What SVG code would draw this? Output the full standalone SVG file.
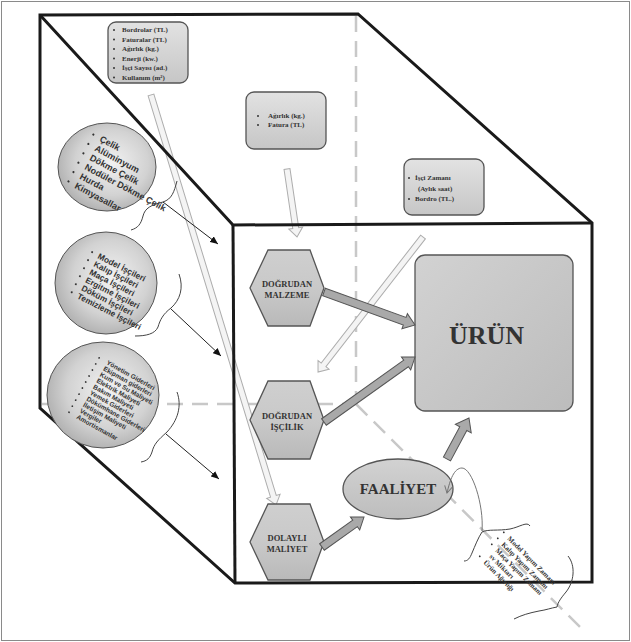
<svg xmlns="http://www.w3.org/2000/svg" width="631" height="642" viewBox="0 0 631 642">
<defs>
  <linearGradient id="boxG" x1="0" y1="0" x2="0" y2="1">
    <stop offset="0" stop-color="#e2e2e2"/><stop offset="1" stop-color="#c6c6c6"/>
  </linearGradient>
  <linearGradient id="hexG" x1="0" y1="0" x2="0" y2="1">
    <stop offset="0" stop-color="#cfcfcf"/><stop offset="0.5" stop-color="#c9c9c9"/><stop offset="1" stop-color="#b9b9b9"/>
  </linearGradient>
  <linearGradient id="urunG" x1="0" y1="0" x2="1" y2="1">
    <stop offset="0" stop-color="#d2d2d2"/><stop offset="1" stop-color="#bcbcbc"/>
  </linearGradient>
  <radialGradient id="circG" cx="0.55" cy="0.45" r="0.62">
    <stop offset="0" stop-color="#f2f2f2"/><stop offset="0.6" stop-color="#d2d2d2"/><stop offset="1" stop-color="#a9a9a9"/>
  </radialGradient>
  <linearGradient id="faaG" x1="0" y1="0" x2="0" y2="1">
    <stop offset="0" stop-color="#d2d2d2"/><stop offset="1" stop-color="#bdbdbd"/>
  </linearGradient>
  <marker id="bh" markerUnits="userSpaceOnUse" markerWidth="9" markerHeight="7" refX="8" refY="3.5" orient="auto">
    <path d="M0,0 L8,3.5 L0,7 Z" fill="#111"/>
  </marker>
  <marker id="gh" markerUnits="userSpaceOnUse" markerWidth="9" markerHeight="9" refX="7" refY="4" orient="auto">
    <path d="M0,0 L7,4 L0,8" fill="none" stroke="#777" stroke-width="1"/>
  </marker>
</defs>
<style>
  .edge{fill:none;stroke:#1a1a1a;stroke-width:3;stroke-linejoin:miter}
  .dash{fill:none;stroke:#c8c8c8;stroke-width:2.5;stroke-dasharray:16 9}
  .box{fill:url(#boxG);stroke:#555;stroke-width:1.3}
  .hex{fill:url(#hexG);stroke:#555;stroke-width:1.3}
  .blk{fill:#a9a9a9;stroke:#555;stroke-width:1}
  .lgt{fill:#f4f4f4;stroke:#adadad;stroke-width:1}
  .circ{fill:url(#circG);stroke:#555;stroke-width:1}
  .thin{fill:none;stroke:#222;stroke-width:1}
  .brace{fill:none;stroke:#444;stroke-width:1}
  .st{font-family:"Liberation Serif",serif;font-weight:bold;fill:#333;font-size:7px}
  .ct{font-family:"Liberation Sans",Arial,sans-serif;font-weight:bold;fill:#333}
  .ht{font-family:"Liberation Serif",serif;font-weight:bold;fill:#333;font-size:8.5px;text-anchor:middle}
  .dot{fill:#333}
</style>
<rect x="1.5" y="1.5" width="628" height="639" fill="#fff" stroke="#8a8a8a" stroke-width="1"/>

<g id="dashed">
  <path class="dash" d="M356,16 L356,404"/>
  <path class="dash" d="M42,404 L356,404"/>
  <path class="dash" d="M356,404 L582,629"/>
</g>

<g id="light-arrows">
  <path class="lgt" transform="translate(151,95) rotate(73.04)" d="M0,-3 L419.6,-3 L419.6,-7 L428.6,0 L419.6,7 L419.6,3 L0,3 Z"/>
  <path class="lgt" transform="translate(287,169) rotate(81.6)" d="M0,-3 L59.7,-3 L59.7,-7 L68.7,0 L59.7,7 L59.7,3 L0,3 Z"/>
  <path class="lgt" transform="translate(423,237) rotate(127.87)" d="M0,-3 L162,-3 L162,-7 L171,0 L162,7 L162,3 L0,3 Z"/>
</g>

<g id="cube">
  <path class="edge" d="M40,15 L358,14 L592,223 L592,582 L235,583 L40,408 Z"/>
  <path class="edge" d="M40,15 L233,225 L592,223"/>
  <path class="edge" d="M233,225 L235,583"/>
</g>

<g id="box-genel">
  <rect class="box" x="108" y="22" width="80" height="61" rx="8"/>
  <g class="st">
    <text x="122" y="32">Bordrolar (TL)</text>
    <text x="122" y="41.5">Faturalar (TL)</text>
    <text x="122" y="51">Ağırlık (kg.)</text>
    <text x="122" y="60.5">Enerji (kw.)</text>
    <text x="122" y="70">İşçi Sayısı (ad.)</text>
    <text x="122" y="79.5">Kullanım (m²)</text>
  </g>
  <g class="dot">
    <circle cx="114" cy="30" r="1"/><circle cx="114" cy="39.5" r="1"/><circle cx="114" cy="49" r="1"/>
    <circle cx="114" cy="58.5" r="1"/><circle cx="114" cy="68" r="1"/><circle cx="114" cy="77.5" r="1"/>
  </g>
</g>

<g id="box-malzeme">
  <rect class="box" x="246" y="92" width="80" height="57" rx="8"/>
  <text class="st" x="268" y="118">Ağırlık (kg.)</text>
  <text class="st" x="268" y="127">Fatura (TL)</text>
  <circle class="dot" cx="258" cy="116" r="1"/><circle class="dot" cx="258" cy="125" r="1"/>
</g>

<g id="box-iscilik">
  <rect class="box" x="404" y="159" width="80" height="56" rx="8"/>
  <text class="st" x="415" y="180">İşçi Zamanı</text>
  <text class="st" x="418" y="190.5">(Aylık saat)</text>
  <text class="st" x="415" y="201">Bordro (TL.)</text>
  <circle class="dot" cx="409" cy="178" r="1"/><circle class="dot" cx="409" cy="199" r="1"/>
</g>

<g id="circle-malzeme">
  <ellipse class="circ" cx="107" cy="167" rx="49" ry="44"/>
  <g transform="translate(99,141) rotate(28)">
    <g class="ct" font-size="9">
      <text x="0" y="0">Çelik</text>
      <text x="0" y="10.6">Alüminyum</text>
      <text x="0" y="21.2">Dökme Çelik</text>
      <text x="0" y="31.8">Nodüler Dökme Çelik</text>
      <text x="0" y="42.4">Hurda</text>
      <text x="0" y="53">Kimyasallar</text>
    </g>
    <g class="dot">
      <circle cx="-8" cy="-3" r="1.1"/><circle cx="-8" cy="7.6" r="1.1"/><circle cx="-8" cy="18.2" r="1.1"/>
      <circle cx="-8" cy="28.8" r="1.1"/><circle cx="-8" cy="39.4" r="1.1"/><circle cx="-8" cy="50" r="1.1"/>
    </g>
  </g>
</g>

<g id="circle-iscilik">
  <ellipse class="circ" cx="106" cy="283" rx="51" ry="51"/>
  <g transform="translate(97,258) rotate(27)">
    <g class="ct" font-size="8.3">
      <text x="0" y="0">Model İşçileri</text>
      <text x="0" y="9">Kalıp İşçileri</text>
      <text x="0" y="18">Maça İşçileri</text>
      <text x="0" y="27">Ergitme İşçileri</text>
      <text x="0" y="36">Döküm İşçileri</text>
      <text x="0" y="45">Temizleme İşçileri</text>
    </g>
    <g class="dot">
      <circle cx="-7" cy="-3" r="1"/><circle cx="-7" cy="6" r="1"/><circle cx="-7" cy="15" r="1"/>
      <circle cx="-7" cy="24" r="1"/><circle cx="-7" cy="33" r="1"/><circle cx="-7" cy="42" r="1"/>
    </g>
  </g>
</g>

<g id="circle-dolayli">
  <ellipse class="circ" cx="103" cy="395" rx="56" ry="53"/>
  <g transform="translate(106,364) rotate(29)">
    <g class="ct" font-size="6.5">
      <text x="0" y="0">Yönetim Giderleri</text>
      <text x="0" y="6.9">Ekipman giderleri</text>
      <text x="0" y="13.8">Kum ve Su Maliyeti</text>
      <text x="0" y="20.7">Elektrik Maliyeti</text>
      <text x="0" y="27.6">Bakım Maliyeti</text>
      <text x="0" y="34.5">Yemek Giderleri</text>
      <text x="0" y="41.4">Dökümhane Giderleri</text>
      <text x="0" y="48.3">İletişim Maliyeti</text>
      <text x="0" y="55.2">Vergiler</text>
      <text x="0" y="62.1">Amortismanlar</text>
    </g>
    <g class="dot">
      <circle cx="-9" cy="-2" r="0.9"/><circle cx="-9" cy="4.9" r="0.9"/><circle cx="-9" cy="11.8" r="0.9"/>
      <circle cx="-9" cy="18.7" r="0.9"/><circle cx="-9" cy="25.6" r="0.9"/><circle cx="-9" cy="32.5" r="0.9"/>
      <circle cx="-9" cy="39.4" r="0.9"/><circle cx="-9" cy="46.3" r="0.9"/><circle cx="-9" cy="53.2" r="0.9"/>
      <circle cx="-9" cy="60.1" r="0.9"/>
    </g>
  </g>
</g>

<g id="urun">
  <rect x="415" y="255" width="158" height="156" rx="10" fill="url(#urunG)" stroke="#555" stroke-width="1.3"/>
  <text x="449" y="344" font-family="Liberation Serif,serif" font-weight="bold" font-size="26" fill="#333">ÜRÜN</text>
</g>

<g id="dogrudan-malzeme">
  <path class="hex" d="M268,250 L310,250 L324,288 L310,326 L268,326 L250,288 Z"/>
  <text class="ht" x="287" y="287">DOĞRUDAN</text>
  <text class="ht" x="287" y="298">MALZEME</text>
</g>

<g id="dogrudan-iscilik">
  <path class="hex" d="M268,381 L310,381 L324,420 L310,459 L268,459 L250,420 Z"/>
  <text class="ht" x="287" y="419">DOĞRUDAN</text>
  <text class="ht" x="287" y="430">İŞÇİLİK</text>
</g>

<g id="dolayli-maliyet">
  <path class="hex" d="M268,504 L310,504 L324,542 L310,580 L268,580 L250,542 Z"/>
  <text class="ht" x="287" y="541">DOLAYLI</text>
  <text class="ht" x="287" y="552">MALİYET</text>
</g>

<g id="faaliyet">
  <ellipse cx="398" cy="489" rx="55" ry="30" fill="url(#faaG)" stroke="#555" stroke-width="1.3"/>
  <text x="398" y="494" text-anchor="middle" font-family="Liberation Serif,serif" font-weight="bold" font-size="15" fill="#333">FAALİYET</text>
</g>

<g id="faaliyet-notes">
  <g transform="translate(507,539) rotate(45)">
    <g class="st" font-size="8.2">
      <text x="0" y="0">Model Yapım Zamanı</text>
      <text x="0" y="8.5">Kalıp Yapım Zamanı</text>
      <text x="0" y="17">Maça Yapım Zamanı</text>
      <text x="0" y="25.5">sv Miktarı</text>
      <text x="0" y="34">Ürün Ağırlığı</text>
    </g>
    <g class="dot">
      <circle cx="-7" cy="-2.5" r="0.9"/><circle cx="-7" cy="6" r="0.9"/><circle cx="-7" cy="14.5" r="0.9"/>
      <circle cx="-7" cy="31.5" r="0.9"/>
    </g>
  </g>
</g>

<g id="connectors">
  <path class="blk" transform="translate(324,292) rotate(19.9)" d="M0,-4 L85.8,-4 L85.8,-8 L96.8,0 L85.8,8 L85.8,4 L0,4 Z"/>
  <path class="blk" transform="translate(324,422) rotate(-35.5)" d="M0,-4 L100.8,-4 L100.8,-8 L111.8,0 L100.8,8 L100.8,4 L0,4 Z"/>
  <path class="blk" transform="translate(322,547) rotate(-35.5)" d="M0,-4 L40.6,-4 L40.6,-8 L51.6,0 L40.6,8 L40.6,4 L0,4 Z"/>
  <path class="blk" transform="translate(447,459) rotate(-61.8)" d="M0,-4 L34.5,-4 L34.5,-9 L46.5,0 L34.5,9 L34.5,4 L0,4 Z"/>

  <path class="brace" d="M177,181 C174,192 172,199 163,202 C151,205 145,208 143,216 C141,224 138,228 131,230"/>
  <path class="thin" marker-end="url(#bh)" d="M163,202 L218,244"/>
  <path class="brace" d="M179,274 C184,288 180,300 171,308 C163,314 160,320 158,327 C155,334 146,336 135,336"/>
  <path class="thin" marker-end="url(#bh)" d="M171,309 L221,356"/>
  <path class="brace" d="M177,392 C182,406 178,420 167,432 C158,440 154,444 152,452 C150,458 147,461 141,462"/>
  <path class="thin" marker-end="url(#bh)" d="M166,434 L219,479"/>

  <path class="brace" d="M530,526 C527,521 520,527 510,529 C498,531 488,529 482,532 C478,538 475,546 472,553 C470,558 468,561 464,561"/>
  <path class="brace" d="M568,556 C576,566 574,582 566,592 C561,598 558,602 557,607 C551,608 546,610 539,611 C529,613 522,615 514,619"/>
  <path fill="none" stroke="#666" stroke-width="0.9" marker-end="url(#gh)" d="M482,531 C484,505 472,468 462,468 C454,468 450,480 447,493"/>
</g>
</svg>
